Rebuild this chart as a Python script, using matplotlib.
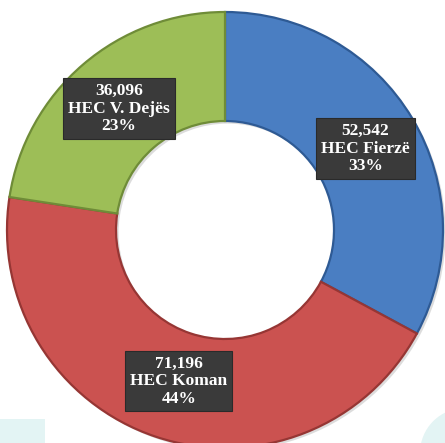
import numpy as np
import matplotlib
matplotlib.use("Agg")
import matplotlib.pyplot as plt
from matplotlib.patches import Rectangle, Circle

names = ["HEC Fierzë", "HEC Koman", "HEC V. Dejës"]
values = [52542, 71196, 36096]
value_labels = ["52,542", "71,196", "36,096"]
pct_labels = ["33%", "44%", "23%"]
colors = ["#4A7EC2", "#CB5250", "#9DBE57"]
edge_colors = ["#2E5A94", "#963634", "#6F8C38"]

fig = plt.figure(figsize=(4.45, 4.43), dpi=100)
ax = fig.add_axes([0, 0, 1, 1])
R = 218.0
CX, CY = 225.0, 230.0
xlim = (-CX / R, (445 - CX) / R)
ylim = (-(443 - CY) / R, CY / R)

# faint decorative background shapes (bottom corners)
ax.add_patch(Rectangle((xlim[0], ylim[0]), 45 / R, 24 / R, facecolor="#E3F4F4",
                       edgecolor="none", zorder=0))
ax.add_patch(Circle((xlim[1] + 20 / R, ylim[0] - 10 / R), 45 / R, facecolor="#E3F4F4",
                    edgecolor="none", zorder=0))

# shadow
ax.pie(values, startangle=90, counterclock=False, radius=1.0,
       colors=["#bbbbbb"] * 3, center=(0.012, -0.012),
       wedgeprops=dict(width=0.5, linewidth=0, alpha=0.5), frame=True)
wedges, _ = ax.pie(values, startangle=90, counterclock=False, radius=1.0,
                   colors=colors, frame=True,
                   wedgeprops=dict(width=0.5, linewidth=1.6))
for w, ec in zip(wedges, edge_colors):
    w.set_edgecolor(ec)
ax.set_xlim(*xlim)
ax.set_ylim(*ylim)
ax.axis("off")

# label placement (radius and angle adjustments)
label_r = [0.745, 0.725, 0.74]
angle_adj = [-0.8, 1.5, 0.5]
for w, v, n, p, r, da in zip(wedges, value_labels, names, pct_labels, label_r, angle_adj):
    mid = np.deg2rad((w.theta1 + w.theta2) / 2 + da)
    x, y = r * np.cos(mid), r * np.sin(mid)
    ax.text(x, y, f"{v}\n{n}\n{p}", ha="center", va="center",
            fontsize=12.5, color="white", fontweight="bold",
            family=["Liberation Serif", "DejaVu Serif"], linespacing=1.12,
            bbox=dict(boxstyle="square,pad=0.28", facecolor="#3A3A3A",
                      edgecolor="#2a2a2a", linewidth=0.8))

fig.savefig("out.png", dpi=100)
